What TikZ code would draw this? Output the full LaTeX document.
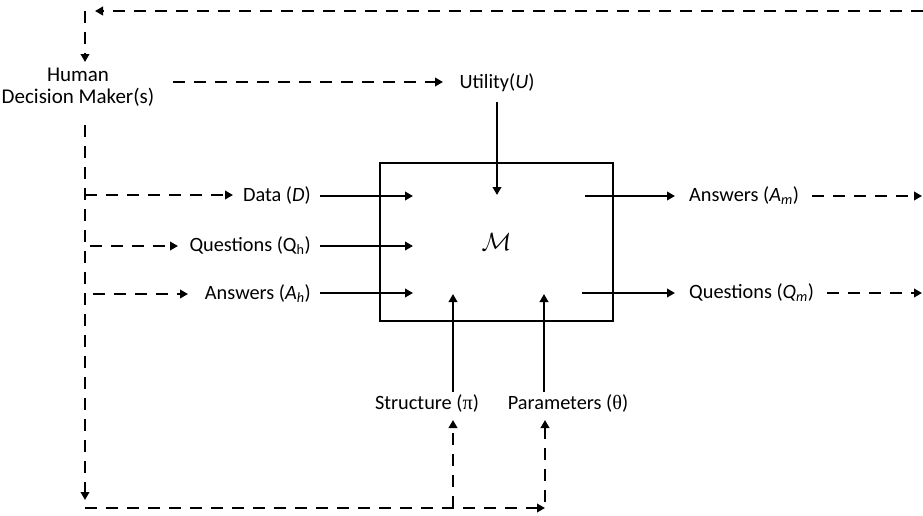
\documentclass[tikz,border=0pt]{standalone}
\usepackage{fontspec}
\setmainfont{Carlito}
\newfontfamily\grk{Liberation Serif}
\usetikzlibrary{arrows.meta}
\begin{document}
\begin{tikzpicture}[x=1pt,y=-1pt,
  ln/.style={line width=2.8pt},
  dsh/.style={line width=2.8pt, dash pattern=on 12pt off 9pt},
  arr/.style={-{Triangle[length=8pt,width=8.5pt]}},
  lbl/.style={inner sep=0pt, font=\fontsize{20.3}{21.5}\selectfont}]
\useasboundingbox (0,0) rectangle (923,515);
% main box
\node[draw, line width=2.8pt, minimum width=233pt, minimum height=158pt, inner sep=0pt,
      font=\fontsize{25}{27}\selectfont] (M) at (496.5,242) {$\mathcal{M}$};
% labels
\node[lbl, align=center, font=\fontsize{21}{21.5}\selectfont] (H) at (78,87) {Human\\Decision Maker(s)};
\node[lbl] (U) at (497,83) {Utility(\textit{U})};
\node[lbl, anchor=east] (D) at (311,195) {Data (\textit{D})};
\node[lbl, anchor=east] (Qh) at (311,246) {Questions (Q\textsubscript{h})};
\node[lbl, anchor=east] (Ah) at (311,294) {Answers (\textit{A\textsubscript{h}})};
\node[lbl, anchor=west] (Am) at (689,196) {Answers (\textit{A\textsubscript{m}})};
\node[lbl, anchor=west] (Qm) at (689,293) {Questions (\textit{Q\textsubscript{m}})};
\node[lbl] (S) at (427,403) {Structure ({\grk π})};
\node[lbl] (P) at (568,403) {Parameters ({\grk θ})};
% coordinates
\coordinate (tr) at (923,11);
\coordinate (tl) at (85,11);
\coordinate (lv) at (85,125);
\coordinate (bl) at (85,508);
\coordinate (bs) at (453,508);
\coordinate (bp) at (545,508);
\coordinate (inU) at (497,195);
\coordinate (inD) at (413,196);
\coordinate (inQ) at (413,246);
\coordinate (inA) at (413,293);
\coordinate (inS) at (453,294);
\coordinate (inP) at (544,294);
\coordinate (outA) at (585,196);
\coordinate (outQ) at (582,293);
\coordinate (eA) at (922,196);
\coordinate (eQ) at (922,293);
% dashed feedback
\draw[dsh,arr] (tr) -- ([xshift=10pt]tl);
\draw[dsh,arr] (tl) -- (85,62);
\draw[dsh,arr] (173,82) -- (443,82);
\draw[dsh,arr] (lv) -- (85,500);
\draw[dsh,arr] (bl) -- (bp);
\draw[dsh,arr] (bs) -- (453,420);
\draw[dsh,arr] (bp |- 0,502) -- (545,420);
\draw[dsh,arr] (85,195) -- (233,195);
\draw[dsh,arr] (90,246) -- (178,246);
\draw[dsh,arr] (93,294) -- (188,294);
\draw[dsh,arr] (812,196) -- (eA);
\draw[dsh,arr] (827,293) -- (eQ);
% solid
\draw[ln,arr] (497,102) -- (inU);
\draw[ln,arr] (320,196) -- (inD);
\draw[ln,arr] (320,246) -- (inQ);
\draw[ln,arr] (320,293) -- (inA);
\draw[ln,arr] (453,392) -- (inS);
\draw[ln,arr] (544,392) -- (inP);
\draw[ln,arr] (outA) -- (675,196);
\draw[ln,arr] (outQ) -- (675,293);
\end{tikzpicture}
\end{document}
